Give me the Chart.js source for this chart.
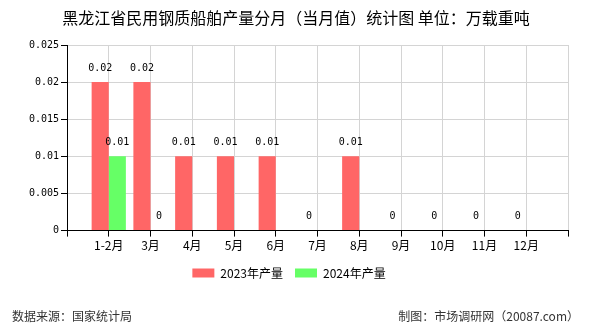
<!DOCTYPE html>
<html lang="zh">
<head>
    <meta charset="UTF-8">
    <title>黑龙江省民用钢质船舶产量分月（当月值）统计图</title>
    <script src="https://cdn.jsdelivr.net/npm/chart.js"></script>
    <style>
        html, body { margin: 0; padding: 0; background: #fff; }
        #wrap { width: 590px; height: 330px; position: relative; }
    </style>
</head>
<body>
<div id="wrap"><canvas id="chart" width="590" height="330"></canvas></div>

<script>
    // 数据
    const months = ["1-2月", "3月", "4月", "5月", "6月", "7月", "8月", "9月", "10月", "11月", "12月"];
    const output2023 = [0.02, 0.02, 0.01, 0.01, 0.01, 0, 0.01, 0, 0, 0, 0];
    const output2024 = [0.01, 0, null, null, null, null, null, null, null, null, null];
    const yTicks = [0, 0.005, 0.01, 0.015, 0.02, 0.025];

    const titleText = "黑龙江省民用钢质船舶产量分月（当月值）统计图 单位：万载重吨";
    const sourceText = "数据来源：国家统计局";
    const creditText = "制图：市场调研网（20087.com）";

    const cjk = '"SimSun", "Noto Sans CJK SC", sans-serif';
    const mono = '"DejaVu Sans Mono", monospace';

    // empty slot on both sides so months sit on the grid lines
    const labels = [""].concat(months, [""]);
    const pad = arr => [null].concat(arr, [null]);

    // title, footer, value labels
    const decor = {
        id: "decor",
        afterDatasetsDraw(chart) {
            const ctx = chart.ctx;
            ctx.save();
            ctx.fillStyle = "#000";
            ctx.font = "10px " + mono;
            ctx.textAlign = "center";
            ctx.textBaseline = "middle";
            chart.data.datasets.forEach((ds, i) => {
                const meta = chart.getDatasetMeta(i);
                meta.data.forEach((bar, j) => {
                    const v = ds.data[j];
                    if (v === null || v === undefined) return;
                    ctx.fillText(String(v), bar.x, bar.y - 14);
                });
            });
            ctx.restore();
        },
        afterDraw(chart) {
            const ctx = chart.ctx;
            ctx.save();
            ctx.fillStyle = "#000";
            ctx.font = "16px " + cjk;
            ctx.textAlign = "center";
            ctx.textBaseline = "middle";
            ctx.fillText(titleText, 296, 18);

            ctx.font = "12px " + cjk;
            ctx.fillStyle = "#333";
            ctx.textAlign = "left";
            ctx.fillText(sourceText, 12, 316);
            ctx.textAlign = "right";
            ctx.fillText(creditText, 579, 316);
            ctx.restore();
        }
    };

    new Chart(document.getElementById("chart"), {
        type: "bar",
        data: {
            labels: labels,
            datasets: [
                {
                    label: "2023年产量",
                    data: pad(output2023),
                    backgroundColor: "#ff6666"
                },
                {
                    label: "2024年产量",
                    data: pad(output2024),
                    backgroundColor: "#66ff66"
                }
            ]
        },
        options: {
            responsive: false,
            animation: false,
            layout: { padding: { left: 10, right: 22, top: 45, bottom: 41 } },
            categoryPercentage: 0.82,
            barPercentage: 1,
            plugins: {
                title: { display: false },
                tooltip: { enabled: false },
                legend: {
                    position: "bottom",
                    labels: {
                        boxWidth: 22,
                        boxHeight: 9,
                        padding: 12,
                        color: "#000",
                        font: { size: 12, family: cjk }
                    }
                }
            },
            scales: {
                x: {
                    offset: false,
                    grid: { offset: false, color: "#d4d4d4", tickColor: "#000", tickLength: 6 },
                    border: { color: "#000" },
                    ticks: { color: "#000", font: { size: 12, family: cjk }, padding: 2, maxRotation: 0, autoSkip: false }
                },
                y: {
                    min: 0,
                    max: 0.025,
                    afterBuildTicks: scale => { scale.ticks = yTicks.map(v => ({ value: v })); },
                    afterFit: scale => { scale.width = 57; },
                    grid: { color: "#d4d4d4", tickColor: "#000", tickLength: 6 },
                    border: { color: "#000" },
                    ticks: { color: "#000", font: { size: 10, family: mono }, padding: 2, callback: v => String(v) }
                }
            }
        },
        plugins: [decor]
    });
</script>
</body>
</html>
